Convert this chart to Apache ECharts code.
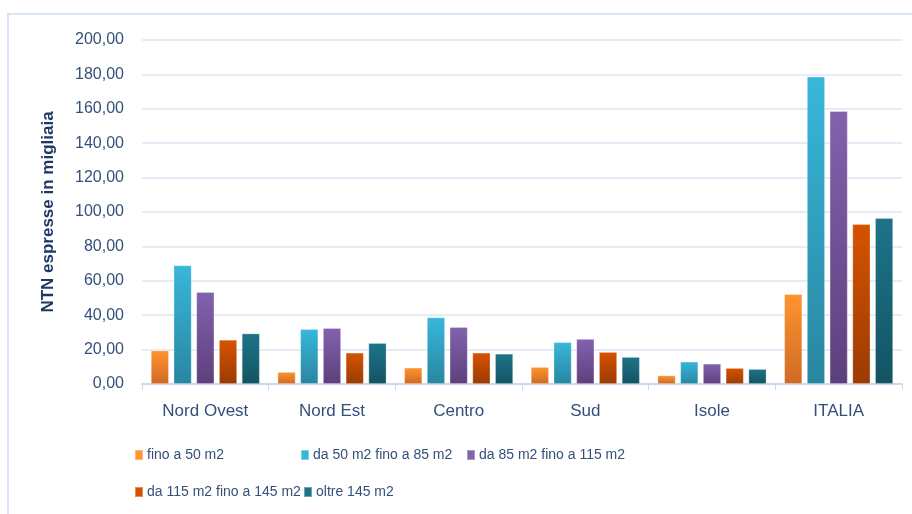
<!DOCTYPE html>
<html>
<head>
<meta charset="utf-8">
<title>NTN per classe dimensionale</title>
<script src="https://cdn.jsdelivr.net/npm/echarts@6/dist/echarts.min.js"></script>
<style>
  html, body { margin: 0; padding: 0; background: #ffffff; }
  #chart { width: 912px; height: 514px; }
</style>
</head>
<body>
<div id="chart"></div>
<script>
// Aree territoriali
const categories = ['Nord Ovest', 'Nord Est', 'Centro', 'Sud', 'Isole', 'ITALIA'];

// NTN (migliaia) per classe di superficie
const fino50     = [19.5, 7.0, 9.5, 9.9, 5.0, 52.3];
const da50a85    = [69.0, 31.9, 38.7, 24.3, 13.0, 178.7];
const da85a115   = [53.5, 32.5, 33.1, 26.2, 11.8, 158.7];
const da115a145  = [25.7, 18.2, 18.2, 18.6, 9.3, 92.9];
const oltre145   = [29.4, 23.8, 17.6, 15.7, 8.7, 96.4];

const seriesNames = ['fino a 50 m2', 'da 50 m2 fino a 85 m2', 'da 85 m2 fino a 115 m2',
                     'da 115 m2 fino a 145 m2', 'oltre 145 m2'];
const seriesValues = [fino50, da50a85, da85a115, da115a145, oltre145];

// tick labels of the value axis
const yMin = 0, yMax = 200, yStep = 20;

// top / bottom gradient stops for each series
const palette = [
  ['#FF9430', '#CF6A24'],
  ['#38B7DB', '#2986A0'],
  ['#8262AD', '#5E3F7D'],
  ['#D55300', '#9B3B03'],
  ['#1D7489', '#135463']
];

const textColor = '#34507A';
const fontFamily = '"Liberation Sans", Arial, sans-serif';

const chart = echarts.init(document.getElementById('chart'), null, { renderer: 'canvas' });

const series = seriesNames.map((name, i) => ({
  name: name,
  type: 'bar',
  data: seriesValues[i],
  barGap: '26%',
  barCategoryGap: '14%',
  itemStyle: {
    color: new echarts.graphic.LinearGradient(0, 0, 0, 1, [
      { offset: 0, color: palette[i][0] },
      { offset: 1, color: palette[i][1] }
    ]),
    borderColor: 'rgba(255,255,255,0.35)',
    borderWidth: 0.8
  }
}));

// legend entries placed in columns
const legendSpots = [
  { left: 134, top: 448 },
  { left: 300, top: 448 },
  { left: 466, top: 448 },
  { left: 134, top: 485 },
  { left: 303, top: 485 }
];
const legends = seriesNames.map((name, i) => ({
  data: [{ name: name, itemStyle: { color: palette[i][0] } }],
  left: legendSpots[i].left,
  top: legendSpots[i].top,
  icon: 'rect',
  itemWidth: 8,
  itemHeight: 10,
  itemGap: 4,
  padding: 0,
  textStyle: { color: textColor, fontSize: 14, fontFamily: fontFamily, padding: [0, 0, 0, -1] }
}));

chart.setOption({
  animation: false,
  backgroundColor: '#ffffff',
  graphic: [{
    type: 'rect',
    shape: { x: 8, y: 14, width: 940, height: 540 },
    style: { fill: 'none', stroke: '#D9E4F3', lineWidth: 2 },
    silent: true,
    z: -1
  }],
  grid: { left: 142, right: 10, top: 40, bottom: 130, containLabel: false },
  legend: legends,
  xAxis: {
    type: 'category',
    data: categories,
    axisLine: { lineStyle: { color: '#C9D9EF', width: 2 } },
    axisTick: { show: true, length: 6, lineStyle: { color: '#C9D9EF', width: 1 } },
    axisLabel: { color: textColor, fontSize: 17, fontFamily: fontFamily, margin: 19 }
  },
  yAxis: {
    type: 'value',
    min: yMin,
    max: yMax,
    interval: yStep,
    name: 'NTN espresse in migliaia',
    nameLocation: 'middle',
    nameGap: 85,
    nameTextStyle: { color: '#1F3864', fontSize: 17, fontWeight: 'bold', fontFamily: fontFamily },
    axisLine: { show: false },
    axisTick: { show: false },
    splitLine: { lineStyle: { color: '#DCE6F4', width: 1.5 } },
    axisLabel: {
      color: textColor, fontSize: 16, fontFamily: fontFamily, margin: 18,
      formatter: v => v.toFixed(2).replace('.', ',')
    }
  },
  series: series
});
</script>
</body>
</html>
